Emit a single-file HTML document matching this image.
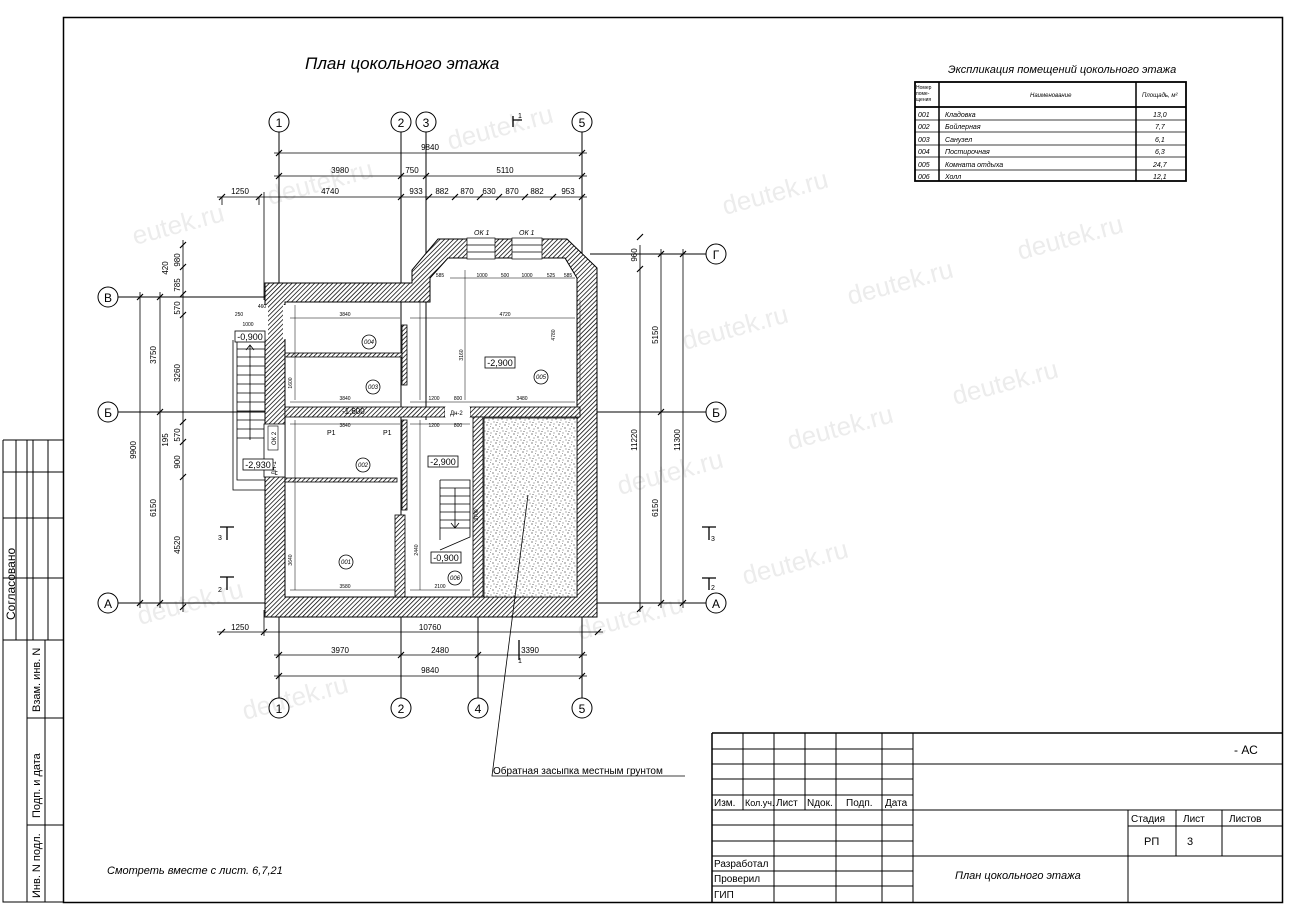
<!DOCTYPE html>
<html><head><meta charset="utf-8"><style>
html,body{margin:0;padding:0;background:#fff;}
svg{display:block;}
text{font-family:"Liberation Sans",sans-serif;fill:#000;}
.i{font-style:italic;}
.d{font-size:7px;}
.s{font-size:5px;}
</style></head><body>
<svg width="1300" height="920" viewBox="0 0 1300 920" xmlns="http://www.w3.org/2000/svg">
<defs>
<pattern id="h" width="3.2" height="3.2" patternUnits="userSpaceOnUse" patternTransform="rotate(45)">
<rect width="3.2" height="3.2" fill="#fff"/><line x1="0" y1="0" x2="0" y2="3.2" stroke="#000" stroke-width="1.5"/></pattern>
<pattern id="dots" width="9" height="9" patternUnits="userSpaceOnUse">
<rect width="9" height="9" fill="#fff"/>
<circle cx="1" cy="2" r=".6" fill="#333"/><circle cx="5" cy="1" r=".5" fill="#333"/><circle cx="7" cy="5" r=".6" fill="#333"/><circle cx="3" cy="6" r=".5" fill="#333"/><circle cx="2" cy="8.5" r=".5" fill="#333"/><circle cx="8" cy="8" r=".5" fill="#333"/><circle cx="4.5" cy="3.5" r=".4" fill="#333"/></pattern>
</defs>

<g font-size="26">
<text x="135" y="245" transform="rotate(-15 135 245)" style="fill:#ececec">eutek.ru</text>
<text x="270" y="205" transform="rotate(-15 270 205)" style="fill:#ececec">deutek.ru</text>
<text x="725" y="215" transform="rotate(-15 725 215)" style="fill:#ececec">deutek.ru</text>
<text x="1020" y="260" transform="rotate(-15 1020 260)" style="fill:#ececec">deutek.ru</text>
<text x="850" y="305" transform="rotate(-15 850 305)" style="fill:#ececec">deutek.ru</text>
<text x="685" y="350" transform="rotate(-15 685 350)" style="fill:#ececec">deutek.ru</text>
<text x="955" y="405" transform="rotate(-15 955 405)" style="fill:#ececec">deutek.ru</text>
<text x="790" y="450" transform="rotate(-15 790 450)" style="fill:#ececec">deutek.ru</text>
<text x="620" y="495" transform="rotate(-15 620 495)" style="fill:#ececec">deutek.ru</text>
<text x="745" y="585" transform="rotate(-15 745 585)" style="fill:#ececec">deutek.ru</text>
<text x="140" y="625" transform="rotate(-15 140 625)" style="fill:#ececec">deutek.ru</text>
<text x="245" y="720" transform="rotate(-15 245 720)" style="fill:#ececec">deutek.ru</text>
<text x="580" y="640" transform="rotate(-15 580 640)" style="fill:#ececec">deutek.ru</text>
<text x="450" y="150" transform="rotate(-15 450 150)" style="fill:#ececec">deutek.ru</text>
</g>

<rect x="63.5" y="17.5" width="1219" height="885" fill="none" stroke="#000" stroke-width="1.5"/>
<g stroke="#000" stroke-width="1" fill="none">
<path d="M3 440 H63 M3 440 V902 H63 M27 440 V640 M3 640 H63 M27 640 V902 M45 640 V902 M27 718 H63 M27 825 H63"/>
<path d="M3 472 H63 M3 518 H63 M3 578 H63 M16 440 V640 M33 440 V640 M48 440 V640"/>
</g>
<text x="15" y="620" font-size="12" transform="rotate(-90 15 620)">Согласовано</text>
<text x="40" y="712" font-size="11" transform="rotate(-90 40 712)">Взам. инв. N</text>
<text x="40" y="818" font-size="11" transform="rotate(-90 40 818)">Подп. и дата</text>
<text x="40" y="898" font-size="11" transform="rotate(-90 40 898)">Инв. N подл.</text>

<text x="305" y="69" font-size="17" class="i">План цокольного этажа</text>
<text x="107" y="874" font-size="11" class="i">Смотреть вместе с лист. 6,7,21</text>

<text x="948" y="73" font-size="11" class="i">Экспликация помещений цокольного этажа</text>
<g stroke="#000" fill="none">
<rect x="915" y="82" width="271" height="99" stroke-width="1.8"/>
<line x1="915" y1="107" x2="1186" y2="107" stroke-width="1.8"/>
<line x1="939" y1="82" x2="939" y2="181" stroke-width="1.5"/>
<line x1="1136" y1="82" x2="1136" y2="181" stroke-width="1.5"/>
<path d="M915 120 H1186 M915 132 H1186 M915 145 H1186 M915 157 H1186 M915 170 H1186" stroke-width=".8"/>
</g>
<g font-size="5"><text x="916" y="89">Номер</text><text x="916" y="95">поме-</text><text x="916" y="101">щения</text></g>
<text x="1030" y="97" font-size="6" class="i">Наименование</text>
<text x="1142" y="97" font-size="6" class="i">Площадь, м²</text>
<g font-size="7" class="i">
<text x="918" y="117">001</text><text x="945" y="117">Кладовка</text><text x="1153" y="117">13,0</text>
<text x="918" y="129">002</text><text x="945" y="129">Бойлерная</text><text x="1155" y="129">7,7</text>
<text x="918" y="142">003</text><text x="945" y="142">Санузел</text><text x="1155" y="142">6,1</text>
<text x="918" y="154">004</text><text x="945" y="154">Постирочная</text><text x="1155" y="154">6,3</text>
<text x="918" y="167">005</text><text x="945" y="167">Комната отдыха</text><text x="1153" y="167">24,7</text>
<text x="918" y="179">006</text><text x="945" y="179">Холл</text><text x="1153" y="179">12,1</text>
</g>

<g stroke="#000" stroke-width="1" fill="none">
<path d="M279 132 V698 M401 132 V698 M426 132 V420 M478 420 V698 M582 132 V698"/>
<path d="M118 297 H290 M118 412 H706 M118 603 H706 M590 254 H706"/>
<circle cx="279" cy="122" r="10"/><circle cx="401" cy="122" r="10"/><circle cx="426" cy="122" r="10"/><circle cx="582" cy="122" r="10"/>
<circle cx="279" cy="708" r="10"/><circle cx="401" cy="708" r="10"/><circle cx="478" cy="708" r="10"/><circle cx="582" cy="708" r="10"/>
<circle cx="108" cy="297" r="10"/><circle cx="108" cy="412" r="10"/><circle cx="108" cy="603" r="10"/>
<circle cx="716" cy="254" r="10"/><circle cx="716" cy="412" r="10"/><circle cx="716" cy="603" r="10"/>
</g>
<g font-size="12" text-anchor="middle">
<text x="279" y="127">1</text><text x="401" y="127">2</text><text x="426" y="127">3</text><text x="582" y="127">5</text>
<text x="279" y="713">1</text><text x="401" y="713">2</text><text x="478" y="713">4</text><text x="582" y="713">5</text>
<text x="108" y="302">В</text><text x="108" y="417">Б</text><text x="108" y="608">А</text>
<text x="716" y="259">Г</text><text x="716" y="417">Б</text><text x="716" y="608">А</text>
</g>

<g stroke="#000" stroke-width=".8" fill="none">
<path d="M274 153 H587 M274 176 H587 M217 197 H587 M217 632 H603 M274 655 H587 M274 676 H587"/>
<path d="M140 292 V608 M160 292 V608 M183 240 V612 M640 245 V612 M661 249 V608 M683 249 V608"/>
<path d="M222 197 V205 M259 197 V205 M264 192 V300 M264 610 V636"/>
<g stroke-width="1.2">
<path d="M276 156 l6 -6 M579 156 l6 -6 M276 179 l6 -6 M398 179 l6 -6 M423 179 l6 -6 M579 179 l6 -6"/>
<path d="M219 200 l6 -6 M256 200 l6 -6 M398 200 l6 -6 M426 200 l6 -6 M452 200 l6 -6 M477 200 l6 -6 M496 200 l6 -6 M522 200 l6 -6 M550 200 l6 -6 M579 200 l6 -6"/>
<path d="M219 635 l6 -6 M261 635 l6 -6 M595 635 l6 -6 M276 658 l6 -6 M398 658 l6 -6 M475 658 l6 -6 M579 658 l6 -6 M276 679 l6 -6 M579 679 l6 -6"/>
<path d="M137 300 l6 -6 M137 606 l6 -6 M157 300 l6 -6 M157 415 l6 -6 M157 606 l6 -6"/>
<path d="M180 248 l6 -6 M180 270 l6 -6 M180 297 l6 -6 M180 318 l6 -6 M180 425 l6 -6 M180 445 l6 -6 M180 480 l6 -6 M180 610 l6 -6"/>
<path d="M637 240 l6 -6 M637 272 l6 -6 M637 612 l6 -6 M658 257 l6 -6 M658 415 l6 -6 M658 606 l6 -6 M680 257 l6 -6 M680 606 l6 -6"/>
</g>
</g>
<g text-anchor="middle" font-size="8">
<text x="430" y="150">9840</text>
<text x="340" y="173">3980</text><text x="412" y="173">750</text><text x="505" y="173">5110</text>
<text x="240" y="194">1250</text><text x="330" y="194">4740</text><text x="416" y="194">933</text><text x="442" y="194">882</text><text x="467" y="194">870</text><text x="489" y="194">630</text><text x="512" y="194">870</text><text x="537" y="194">882</text><text x="568" y="194">953</text>
<text x="240" y="630">1250</text><text x="430" y="630">10760</text>
<text x="340" y="653">3970</text><text x="440" y="653">2480</text><text x="530" y="653">3390</text>
<text x="430" y="673">9840</text>
</g>
<g font-size="8" text-anchor="middle">
<text transform="translate(136 450) rotate(-90)">9900</text>
<text transform="translate(156 355) rotate(-90)">3750</text>
<text transform="translate(156 508) rotate(-90)">6150</text>
<text transform="translate(180 373) rotate(-90)">3260</text>
<text transform="translate(180 545) rotate(-90)">4520</text>
<text transform="translate(180 462) rotate(-90)">900</text>
<text transform="translate(180 435) rotate(-90)">570</text>
<text transform="translate(180 308) rotate(-90)">570</text>
<text transform="translate(180 285) rotate(-90)">785</text>
<text transform="translate(180 260) rotate(-90)">980</text>
<text transform="translate(168 268) rotate(-90)">420</text>
<text transform="translate(168 440) rotate(-90)">195</text>
<text transform="translate(637 255) rotate(-90)">960</text>
<text transform="translate(637 440) rotate(-90)">11220</text>
<text transform="translate(658 335) rotate(-90)">5150</text>
<text transform="translate(658 508) rotate(-90)">6150</text>
<text transform="translate(680 440) rotate(-90)">11300</text>
</g>

<g stroke="#000" stroke-width="1.3" fill="none">
<path d="M513 116 V127 M513 120 H522"/>
<path d="M220 527 H234 M227 527 V540 M220 577 H234 M227 577 V590"/>
<path d="M702 527 H716 M709 527 V540 M702 578 H716 M709 578 V590"/>
<path d="M519 640 V660"/>
</g>
<g font-size="7"><text x="518" y="118">1</text><text x="218" y="540">3</text><text x="218" y="592">2</text><text x="711" y="541">3</text><text x="711" y="590">2</text><text x="518" y="663">1</text></g>

<g stroke="#000" stroke-width=".8" fill="none">
<path d="M265 340 H237 V480 H265 M233 340 V490 H265"/>
<path d="M237 349 H265 M237 357 H265 M237 366 H265 M237 375 H265 M237 384 H265 M237 393 H265 M237 402 H265 M237 411 H265 M237 420 H265 M237 429 H265 M237 438 H265"/>
<path d="M250 440 V345 M246 350 l4 -5 l4 5"/>
</g>

<path fill="url(#h)" fill-rule="evenodd" stroke="#000" stroke-width="1"
 d="M265 283 H412 V270 L438 239 H567 L597 268 V617 H265 Z
    M285 302 V597 H577 V278 L565 258 H448 L430 278 V302 Z"/>
<g fill="url(#h)" stroke="#000" stroke-width=".8">
<rect x="285" y="407" width="160" height="10"/>
<rect x="470" y="407" width="110" height="10"/>
<rect x="473" y="417" width="10" height="180"/>
<rect x="285" y="353" width="120" height="4"/>
<rect x="285" y="478" width="112" height="4"/>
<rect x="402" y="325" width="5" height="60"/>
<rect x="402" y="420" width="5" height="90"/>
<rect x="395" y="515" width="10" height="82"/>
</g>
<rect x="484" y="418" width="93" height="179" fill="url(#dots)" stroke="#000" stroke-width=".8"/>
<rect x="264" y="305" width="4" height="34" fill="#fff"/>
<rect x="283" y="305" width="3" height="34" fill="#fff"/>
<rect x="264" y="424" width="21" height="53" fill="#fff" stroke="#000" stroke-width=".8"/>
<rect x="268" y="426" width="10" height="24" fill="#fff" stroke="#000" stroke-width=".6"/>
<text transform="translate(276 445) rotate(-90)" font-size="6">ОК 2</text>
<text transform="translate(276 475) rotate(-90)" font-size="6">ДН-1</text>
<g fill="#fff" stroke="#000" stroke-width=".7">
<rect x="467" y="238" width="28" height="21"/><rect x="512" y="238" width="30" height="21"/>
<path d="M467 245 H495 M467 252 H495 M512 245 H542 M512 252 H542" fill="none"/>
</g>
<text x="474" y="235" font-size="7" class="i">ОК 1</text>
<text x="519" y="235" font-size="7" class="i">ОК 1</text>
<rect x="445" y="407" width="25" height="10" fill="#fff"/>
<text x="450" y="415" font-size="6">Дн-2</text>

<g stroke="#000" stroke-width=".8" fill="none">
<path d="M440 480 H470 V537 L440 550 M440 480 V540"/>
<path d="M440 488 H470 M440 496 H470 M440 504 H470 M440 512 H470 M440 520 H470 M440 528 H470"/>
<path d="M455 488 V528 M451 523 l4 5 l4 -5"/>
</g>

<g stroke="#000" stroke-width=".5" fill="none">
<path d="M290 318 H400 M410 318 H575 M290 402 H400 M410 402 H575 M290 424 H400 M410 424 H470 M290 590 H395 M410 590 H470 M450 278 H575"/>
<path d="M295 305 V400 M295 420 V590 M465 270 V400 M580 300 V400 M420 300 V400 M420 420 V590"/>
</g>
<g font-size="5" text-anchor="middle">
<text x="345" y="316">3840</text><text x="505" y="316">4720</text><text x="345" y="400">3840</text><text x="522" y="400">3480</text><text x="345" y="427">3840</text><text x="345" y="588">3580</text><text x="440" y="588">2100</text>
<text x="434" y="400">1200</text><text x="458" y="400">800</text><text x="434" y="427">1200</text><text x="458" y="427">800</text>
<text x="440" y="277">585</text><text x="482" y="277">1000</text><text x="505" y="277">500</text><text x="527" y="277">1000</text><text x="551" y="277">525</text><text x="568" y="277">585</text>
<text transform="translate(292 560) rotate(-90)">3640</text>
<text transform="translate(418 550) rotate(-90)">2440</text>
<text transform="translate(463 355) rotate(-90)">3160</text>
<text transform="translate(555 335) rotate(-90)">4780</text>
<text transform="translate(292 383) rotate(-90)">1600</text>
<text transform="translate(478 515) rotate(-90)">3700</text>
<text x="248" y="326">1000</text><text x="262" y="308">460</text><text x="239" y="316">250</text>
</g>

<g fill="#fff" stroke="#000" stroke-width=".8">
<rect x="235" y="331" width="30" height="11"/>
<rect x="243" y="459" width="30" height="11"/>
<rect x="485" y="357" width="30" height="11"/>
<rect x="428" y="456" width="30" height="11"/>
<rect x="431" y="552" width="30" height="11"/>
</g>
<g font-size="9" text-anchor="middle">
<text x="250" y="340">-0,900</text><text x="258" y="468">-2,930</text><text x="500" y="366">-2,900</text><text x="443" y="465">-2,900</text><text x="446" y="561">-0,900</text>
</g>
<g fill="#fff" stroke="#000" stroke-width=".8">
<circle cx="369" cy="342" r="7"/><circle cx="373" cy="387" r="7"/><circle cx="541" cy="377" r="7"/><circle cx="363" cy="465" r="7"/><circle cx="346" cy="562" r="7"/><circle cx="455" cy="578" r="7"/>
</g>
<g font-size="6" text-anchor="middle" class="i">
<text x="369" y="344">004</text><text x="373" y="389">003</text><text x="541" y="379">005</text><text x="363" y="467">002</text><text x="346" y="564">001</text><text x="455" y="580">006</text>
</g>
<text x="342" y="414" font-size="8">-1,600</text>
<text x="327" y="435" font-size="7">Р1</text><text x="383" y="435" font-size="7">Р1</text>

<g stroke="#000" stroke-width=".8" fill="none">
<path d="M528 495 L492 776 H685"/>
</g>
<text x="493" y="774" font-size="10">Обратная засыпка местным грунтом</text>

<g stroke="#000" fill="none">
<path d="M712 733 H1283 M712 733 V902" stroke-width="1.5"/>
<path d="M743 733 V810 M774 733 V902 M805 733 V810 M836 733 V902 M882 733 V902 M913 733 V902" stroke-width="1"/>
<path d="M712 749 H913 M712 764 H913 M712 779 H913 M712 795 H913 M712 810 H913 M712 825 H913 M712 841 H913 M712 856 H913 M712 871 H913 M712 886 H913" stroke-width="1"/>
<path d="M913 764 H1283 M913 810 H1283 M1128 826 H1283 M913 856 H1283 M1128 810 V902 M1176 810 V856 M1222 810 V856" stroke-width="1"/>
</g>
<g font-size="10">
<text x="714" y="806">Изм.</text><text x="745" y="806" font-size="9">Кол.уч.</text><text x="776" y="806">Лист</text><text x="807" y="806">Nдок.</text><text x="846" y="806">Подп.</text><text x="885" y="806">Дата</text>
<text x="714" y="867">Разработал</text><text x="714" y="882">Проверил</text><text x="714" y="898">ГИП</text>
<text x="1234" y="754" font-size="12">- АС</text>
<text x="1131" y="822">Стадия</text><text x="1183" y="822">Лист</text><text x="1229" y="822">Листов</text>
<text x="1144" y="845" font-size="11">РП</text><text x="1187" y="845" font-size="11">3</text>
<text x="955" y="879" font-size="11" class="i">План цокольного этажа</text>
</g>
</svg>
</body></html>
